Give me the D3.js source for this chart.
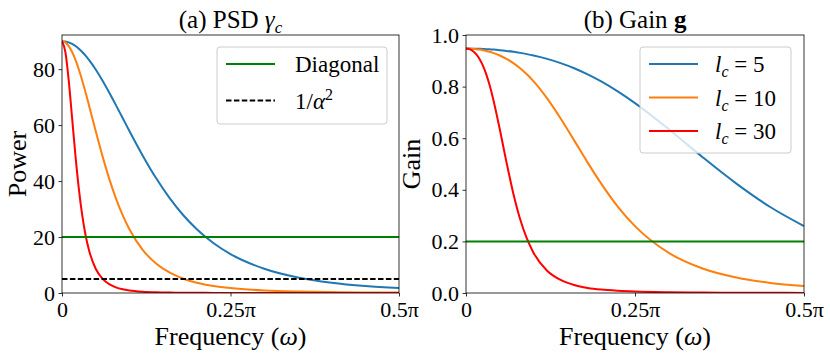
<!DOCTYPE html>
<html>
<head>
<meta charset="utf-8">
<script src="https://cdn.jsdelivr.net/npm/d3@7"></script>
<style>
  body { margin: 0; background: white; }
  svg { display: block; }
</style>
</head>
<body>
<div id="target"></div>
<script>
// frequency samples, in units of pi
const freq = [0, 0.005, 0.01, 0.015, 0.02, 0.025, 0.03, 0.035, 0.04, 0.05, 0.06, 0.07, 0.08, 0.09,
  0.1, 0.12, 0.14, 0.16, 0.18, 0.2, 0.225, 0.25, 0.3, 0.35, 0.4, 0.45, 0.5]

// PSD (power)
const powerL5 = [90, 89.89, 89.56, 89.01, 88.25, 87.29, 86.13, 84.8, 83.29, 79.85, 75.91, 71.63, 67.13, 62.51,
  57.9, 49.0, 40.89, 33.81, 27.79, 22.8, 17.79, 13.93, 8.68, 5.56, 3.68, 2.5, 1.75]
const powerL10 = [90, 89.56, 88.25, 86.13, 83.29, 79.85, 75.92, 71.63, 67.13, 57.9, 49.0, 40.89, 33.81, 27.8,
  22.8, 15.35, 10.45, 7.24, 5.11, 3.68, 2.5, 1.75, 0.92, 0.525, 0.319, 0.204, 0.137]
const powerL30 = [90, 86.13, 75.91, 62.51, 49.0, 37.21, 27.8, 20.64, 15.35, 8.68, 5.11, 3.14, 2.01, 1.34,
  0.92, 0.473, 0.266, 0.16, 0.101, 0.067, 0.043, 0.028, 0.014, 0.0075, 0.0044, 0.0028, 0.0018]

// gain
const gainL5 = [0.947, 0.9473, 0.9471, 0.9468, 0.9464, 0.9458, 0.9451, 0.9443, 0.9434, 0.9411, 0.9382, 0.9348,
  0.9307, 0.9259, 0.9205, 0.9074, 0.891, 0.8712, 0.8475, 0.8201, 0.7806, 0.7359, 0.6345, 0.5265, 0.424, 0.3333, 0.2593]
const gainL10 = [0.9474, 0.9471, 0.9464, 0.9451, 0.9434, 0.9411, 0.9382, 0.9348, 0.9307, 0.9205, 0.9074, 0.891,
  0.8712, 0.8476, 0.8201, 0.7543, 0.6764, 0.5915, 0.5054, 0.424, 0.3333, 0.2593, 0.1554, 0.095, 0.06, 0.0392, 0.0267]
const gainL30 = [0.9474, 0.9451, 0.9382, 0.9259, 0.9074, 0.8815, 0.8476, 0.805, 0.7543, 0.6345, 0.5054, 0.3857,
  0.2867, 0.2114, 0.1554, 0.0864, 0.0505, 0.031, 0.0198, 0.0132, 0.0085, 0.0056, 0.0028, 0.0015, 0.0009, 0.0006, 0.0004]

const diagonalPower = 20
const invAlphaSq = 5
const diagonalGain = 0.2

const lengthScales = ["5", "10", "30"]
const xTicks = [0, 0.25, 0.5]
const xTickLabels = ["0", "0.25π", "0.5π"]
const powerTicks = [0, 20, 40, 60, 80]
const gainTicks = [0, 0.2, 0.4, 0.6, 0.8, 1.0]

const colors = ["#1f77b4", "#ff7f0e", "#ff0000"]
const green = "#008000"

const width = 830, height = 358
const serif = "'Liberation Serif', 'DejaVu Serif', serif"
const tickSize = 22, labelSize = 26, titleSize = 25, legendSize = 23
const lineW = 2

const svg = d3.select("#target").append("svg")
  .attr("width", width)
  .attr("height", height)
  .attr("font-family", serif)

//Panel helper
function makePanel(left, right, yMax, yTicks, yFmt, clipId) {
  const top = 35, bottom = 293
  const x = d3.scaleLinear().domain([0, 0.5]).range([left, right])
  const y = d3.scaleLinear().domain([0, yMax]).range([bottom, top])

  svg.append("clipPath").attr("id", clipId)
    .append("rect")
    .attr("x", left).attr("y", top)
    .attr("width", right - left).attr("height", bottom - top)

  const g = svg.append("g")
  const plot = g.append("g").attr("clip-path", `url(#${clipId})`)

  const xAxis = g.append("g")
    .attr("transform", `translate(0,${bottom})`)
    .call(d3.axisBottom(x).tickValues(xTicks).tickSize(3.5).tickPadding(3.5)
      .tickFormat((d, i) => xTickLabels[i]))
  const yAxis = g.append("g")
    .attr("transform", `translate(${left},0)`)
    .call(d3.axisLeft(y).tickValues(yTicks).tickSize(3.5).tickPadding(3.5).tickFormat(yFmt))

  for (const ax of [xAxis, yAxis]) {
    ax.attr("font-family", serif).attr("font-size", tickSize)
    ax.select(".domain").remove()
    ax.selectAll("line").attr("stroke", "black").attr("stroke-width", 0.8)
    ax.selectAll("text").attr("font-family", serif).attr("font-size", tickSize)
  }
  xAxis.selectAll("text").attr("dy", "0.78em")

  return { g, plot, x, y, left, right, top, bottom }
}

function frame(p) {
  p.g.append("rect")
    .attr("x", p.left).attr("y", p.top)
    .attr("width", p.right - p.left).attr("height", p.bottom - p.top)
    .attr("fill", "none")
    .attr("stroke", "black")
    .attr("stroke-width", 0.8)
}

function curve(p, values, color) {
  const line = d3.line()
    .x((d, i) => p.x(freq[i]))
    .y(d => p.y(d))
    .curve(d3.curveMonotoneX)
  p.plot.append("path")
    .attr("d", line(values))
    .attr("fill", "none")
    .attr("stroke", color)
    .attr("stroke-width", lineW)
}

function hline(p, value, color, dash) {
  p.plot.append("line")
    .attr("x1", p.left).attr("x2", p.right)
    .attr("y1", p.y(value)).attr("y2", p.y(value))
    .attr("stroke", color)
    .attr("stroke-width", lineW)
    .attr("stroke-dasharray", dash || null)
}

function addText(sel) {
  return sel.append("text").attr("font-family", serif).attr("fill", "black")
}

function title(p, build) {
  const t = addText(p.g)
    .attr("x", (p.left + p.right) / 2)
    .attr("y", 28)
    .attr("text-anchor", "middle")
    .attr("font-size", titleSize)
  build(t)
}

function xLabel(p) {
  const t = addText(p.g)
    .attr("x", (p.left + p.right) / 2)
    .attr("y", 345)
    .attr("text-anchor", "middle")
    .attr("font-size", labelSize)
  t.append("tspan").text("Frequency (")
  t.append("tspan").attr("font-style", "italic").text("ω")
  t.append("tspan").text(")")
}

function yLabel(p, cx, label) {
  addText(p.g)
    .attr("transform", `translate(${cx},${(p.top + p.bottom) / 2}) rotate(-90)`)
    .attr("text-anchor", "middle")
    .attr("dominant-baseline", "central")
    .attr("font-size", labelSize)
    .text(label)
}

function legend(p, x0, y0, w, h, items) {
  const lg = p.g.append("g")
  lg.append("rect")
    .attr("x", x0).attr("y", y0)
    .attr("width", w).attr("height", h)
    .attr("rx", 3)
    .attr("fill", "white")
    .attr("fill-opacity", 0.8)
    .attr("stroke", "#cccccc")
    .attr("stroke-width", 1)
  items.forEach((it, i) => {
    const yy = y0 + 17 + i * it.step
    lg.append("line")
      .attr("x1", x0 + 9).attr("x2", x0 + 58)
      .attr("y1", yy).attr("y2", yy)
      .attr("stroke", it.color)
      .attr("stroke-width", lineW)
      .attr("stroke-dasharray", it.dash || null)
    const t = addText(lg)
      .attr("x", x0 + it.tx)
      .attr("y", yy + 8)
      .attr("font-size", legendSize)
    it.build(t)
  })
}

// (a) PSD
const pa = makePanel(62, 399, 92.2, powerTicks, d3.format("d"), "clipA")
curve(pa, powerL5, colors[0])
curve(pa, powerL10, colors[1])
curve(pa, powerL30, colors[2])
hline(pa, diagonalPower, green)
hline(pa, invAlphaSq, "black", "5.5,2.4")
frame(pa)
title(pa, t => {
  t.append("tspan").text("(a) PSD ")
  t.append("tspan").attr("font-style", "italic").text("γ")
  t.append("tspan").attr("font-style", "italic").attr("font-size", 17).attr("dy", 5).text("c")
})
xLabel(pa)
yLabel(pa, 17, "Power")
legend(pa, 217, 47, 170, 77, [
  { color: green, step: 36.5, tx: 78, build: t => t.text("Diagonal") },
  { color: "black", dash: "5.5,2.4", step: 36.5, tx: 78, build: t => {
    t.append("tspan").text("1/")
    t.append("tspan").attr("font-style", "italic").text("α")
    t.append("tspan").attr("font-size", 16).attr("dy", -9).text("2")
  } }
])

// (b) Gain
const pb = makePanel(466, 804, 1.0, gainTicks, d3.format(".1f"), "clipB")
curve(pb, gainL5, colors[0])
curve(pb, gainL10, colors[1])
curve(pb, gainL30, colors[2])
hline(pb, diagonalGain, green)
frame(pb)
title(pb, t => {
  t.append("tspan").text("(b) Gain ")
  t.append("tspan").attr("font-weight", "bold").text("g")
})
xLabel(pb)
yLabel(pb, 411, "Gain")
legend(pb, 640, 47, 151, 106, lengthScales.map((l, i) => ({
  color: colors[i], step: 33.5, tx: 75, build: t => {
    t.append("tspan").attr("font-style", "italic").text("l")
    t.append("tspan").attr("font-style", "italic").attr("font-size", 16).attr("dy", 5).text("c")
    t.append("tspan").attr("dy", -5).text(" = " + l)
  }
})))
</script>
</body>
</html>
